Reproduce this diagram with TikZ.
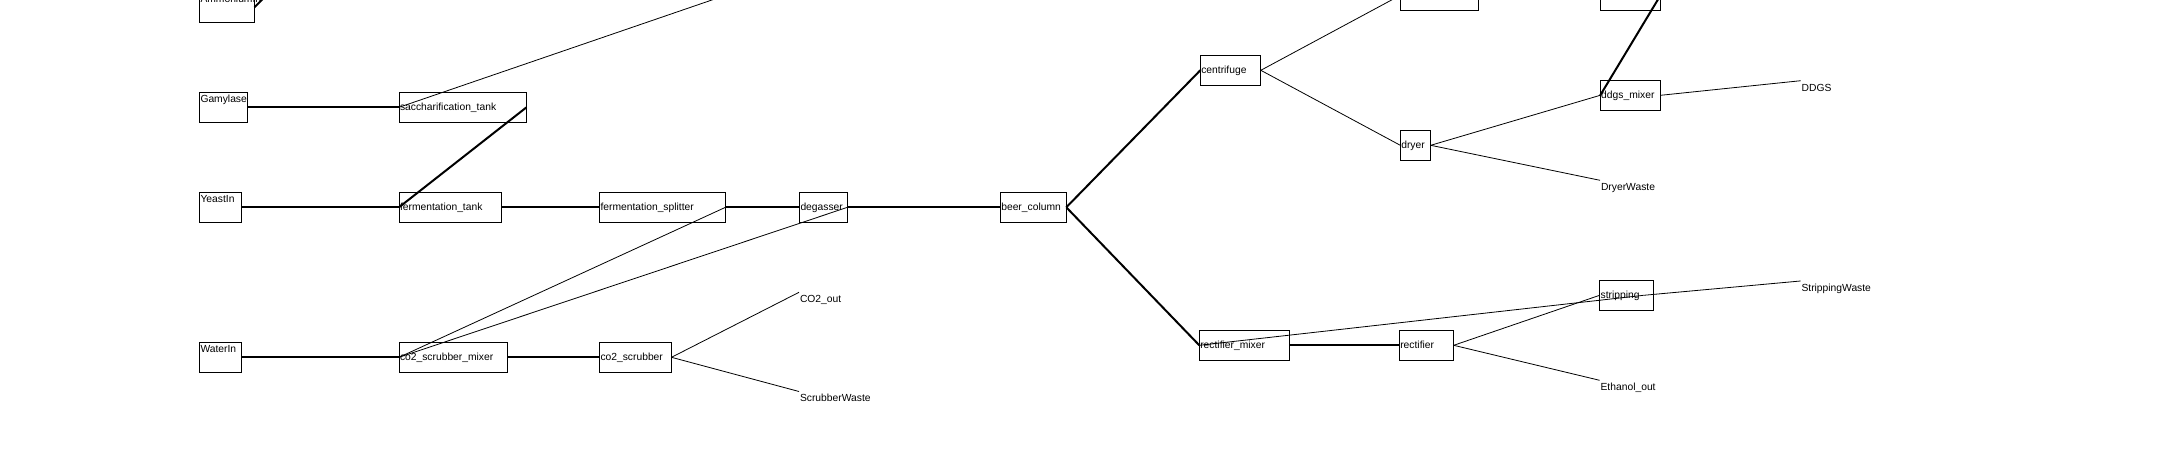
\documentclass[tikz,border=0pt]{standalone}
\usepackage{fontspec}
\setmainfont{Liberation Sans}
\usepackage{tikz}
\usetikzlibrary{calc}

\begin{document}
\begin{tikzpicture}[x=1pt,y=-1pt,
  unit/.style={draw,line width=0.8pt,anchor=west,align=left,outer sep=0pt,
    inner xsep=1pt,inner ysep=0pt,minimum height=30pt,text height=8pt,text depth=2.6pt,
    font=\fontsize{10.3}{12}\selectfont},
  feed/.style={unit,text height=8.4pt,text depth=17.6pt,inner ysep=2pt},
  outlet/.style={anchor=north west,outer sep=0pt,inner xsep=1pt,inner ysep=2pt,
    text height=8.4pt,font=\fontsize{10.3}{12}\selectfont},
  flow/.style={line width=2pt},
  side/.style={line width=0.8pt}]
\useasboundingbox (0,0) rectangle (2160,471);
\clip (0,0) rectangle (2160,471);
% feeds
\node[feed,text width=53pt] (ammonium) at (199.5,7.3) {AmmoniumIn};
\node[feed,text width=46pt] (gamylase) at (199.5,107.3) {Gamylase};
\node[feed,text width=40pt] (yeast) at (199.5,207.3) {YeastIn};
\node[feed,text width=40pt] (water) at (199.5,357.3) {WaterIn};
% units
\node[unit,text width=125.5pt] (sacch) at (399,107.3) {saccharification\_tank};
\node[unit,text width=100.5pt] (ferm) at (399,207.3) {fermentation\_tank};
\node[unit,text width=106pt] (co2mix) at (399,357.3) {co2\_scrubber\_mixer};
\node[unit,text width=124pt] (splitter) at (599.5,207.3) {fermentation\_splitter};
\node[unit,text width=70pt] (scrubber) at (599.5,357.3) {co2\_scrubber};
\node[unit,text width=46pt] (degasser) at (799.5,207.3) {degasser};
\node[unit,text width=64pt] (beer) at (1000.3,207.3) {beer\_column};
\node[unit,text width=58.5pt] (centrifuge) at (1200.3,70.3) {centrifuge};
\node[unit,text width=88pt] (rectmix) at (1199.3,345.3) {rectifier\_mixer};
\node[unit,text width=76pt] (boxa) at (1400.3,-4.7) {};
\node[unit,text width=28.4pt] (dryer) at (1400.3,145.3) {dryer};
\node[unit,text width=52.4pt] (rectifier) at (1399.3,345.3) {rectifier};
\node[unit,text width=58.3pt] (boxb) at (1600.2,-4.7) {};
\node[unit,text width=58.3pt] (ddgs) at (1600.2,95.3) {ddgs\_mixer};
\node[unit,text width=52pt] (stripping) at (1599.6,295.3) {stripping};
% products
\node[outlet] (co2out) at (799,292.3) {CO2\_out};
\node[outlet] (scrubwaste) at (799,391.5) {ScrubberWaste};
\node[outlet] (dryerwaste) at (1600,180.3) {DryerWaste};
\node[outlet] (ddgsout) at (1800.7,80.7) {DDGS};
\node[outlet] (ethanol) at (1599.6,380.3) {Ethanol\_out};
\node[outlet] (stripwaste) at (1800.5,281) {StrippingWaste};
\coordinate (amout) at (266.5,-4.7);
\coordinate (liqout) at (725.6,-4.7);
\coordinate (stripout) at ([xshift=-10pt]stripping.east);
% streams
\draw[flow] (ammonium.east) -- (amout);
\draw[flow] (gamylase.east) -- (sacch.west);
\draw[flow] (yeast.east) -- (ferm.west);
\draw[flow] (sacch.east) -- (ferm.west);
\draw[flow] (ferm.east) -- (splitter.west);
\draw[flow] (splitter.east) -- (degasser.west);
\draw[flow] (degasser.east) -- (beer.west);
\draw[flow] (water.east) -- (co2mix.west);
\draw[flow] (co2mix.east) -- (scrubber.west);
\draw[flow] (beer.east) -- (centrifuge.west);
\draw[flow] (beer.east) -- (rectmix.west);
\draw[flow] (rectmix.east) -- (rectifier.west);
\draw[flow] (boxb.east) -- (ddgs.west);
\draw[side] (liqout) -- (sacch.west);
\draw[side] (splitter.east) -- (co2mix.west);
\draw[side] (degasser.east) -- (co2mix.west);
\draw[side] (scrubber.east) -- (co2out.north west);
\draw[side] (scrubber.east) -- (scrubwaste.north west);
\draw[side] (centrifuge.east) -- (boxa.west);
\draw[side] (centrifuge.east) -- (dryer.west);
\draw[side] (dryer.east) -- (ddgs.west);
\draw[side] (dryer.east) -- (dryerwaste.north west);
\draw[side] (ddgs.east) -- (ddgsout.north west);
\draw[side] (rectifier.east) -- (stripping.west);
\draw[side] (rectifier.east) -- (ethanol.north west);
\draw[side] (stripout) -- (rectmix.west);
\draw[side] (stripout) -- (stripwaste.north west);
\end{tikzpicture}
\end{document}
